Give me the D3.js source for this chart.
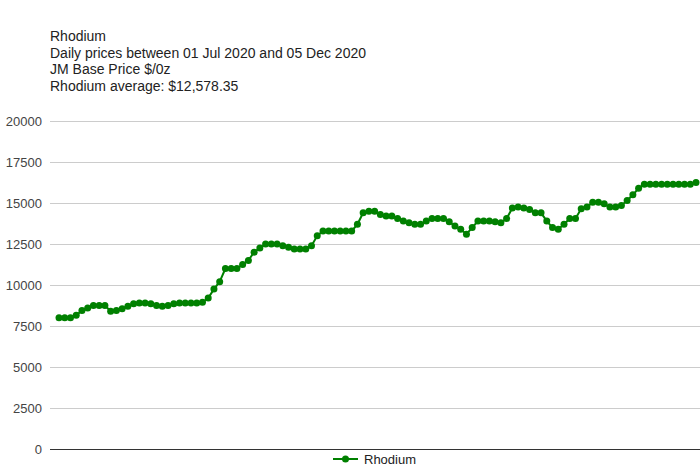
<!DOCTYPE html>
<html>
<head>
<meta charset="utf-8">
<script src="https://cdn.jsdelivr.net/npm/d3@7"></script>
<style>
  body { margin: 0; background: #fff; }
  svg { display: block; font-family: "Liberation Sans", Arial, sans-serif; }
</style>
</head>
<body>
<svg id="chart"></svg>
<script>
// title lines shown above the chart
const titleLines = [
  "Rhodium",
  "Daily prices between 01 Jul 2020 and 05 Dec 2020",
  "JM Base Price $/0z",
  "Rhodium average: $12,578.35"
]
const seriesName = "Rhodium"

// daily prices (one per trading day)
const prices = [
  8000, 8000, 8000, 8150, 8450, 8600, 8750, 8750, 8750, 8400,
  8450, 8550, 8700, 8850, 8900, 8900, 8850, 8750, 8700, 8750,
  8850, 8900, 8900, 8900, 8900, 8950, 9200, 9750, 10200, 11000,
  11000, 11000, 11250, 11500, 12000, 12250, 12500, 12500, 12500, 12400,
  12300, 12200, 12200, 12200, 12400, 13000, 13300, 13300, 13300, 13300,
  13300, 13300, 13700, 14400, 14500, 14500, 14300, 14200, 14200, 14050,
  13900, 13800, 13700, 13700, 13900, 14050, 14050, 14050, 13850, 13600,
  13400, 13100, 13500, 13900, 13900, 13900, 13850, 13800, 14050, 14700,
  14750, 14700, 14600, 14400, 14400, 13900, 13500, 13400, 13700, 14050,
  14050, 14650, 14750, 15050, 15050, 14950, 14750, 14750, 14850, 15150,
  15500, 15900, 16150, 16150, 16150, 16150, 16150, 16150, 16150, 16150,
  16150, 16250
]
const yTicks = [0, 2500, 5000, 7500, 10000, 12500, 15000, 17500, 20000]

const width = 700, height = 470
const color = "#008000"

const svg = d3.select("#chart")
  .attr("width", width)
  .attr("height", height)

const x = d3.scalePoint()
  .domain(prices.map((d, i) => i))
  .range([59, 696])

const y = d3.scaleLinear()
  .domain([0, 20000])
  .range([449, 121])

// titles
svg.append("g")
  .selectAll("text")
  .data(titleLines)
  .enter()
  .append("text")
  .attr("x", 50)
  .attr("y", (d, i) => 41 + i * 16.5)
  .attr("font-size", 14)
  .attr("fill", "#222")
  .text(d => d)

// grid + labels
const yAxis = d3.axisLeft(y)
  .tickValues(yTicks)
  .tickSize(-(width - 50))
  .tickPadding(8)
  .tickFormat(d3.format("d"))

const gy = svg.append("g")
  .attr("transform", "translate(50,0)")
  .call(yAxis)
gy.select(".domain").remove()
gy.selectAll(".tick line")
  .attr("stroke", d => d === 0 ? "#333" : "#ccc")
  .attr("stroke-width", 1)
gy.selectAll(".tick text")
  .attr("font-size", 13)
  .attr("fill", "#444")
  .attr("font-family", "Liberation Sans, Arial, sans-serif")

// series
const line = d3.line()
  .x((d, i) => x(i))
  .y(d => y(d))

svg.append("path")
  .datum(prices)
  .attr("fill", "none")
  .attr("stroke", color)
  .attr("stroke-width", 2)
  .attr("d", line)

svg.append("g")
  .selectAll("circle")
  .data(prices)
  .enter()
  .append("circle")
  .attr("cx", (d, i) => x(i))
  .attr("cy", d => y(d))
  .attr("r", 3.5)
  .attr("fill", color)

// legend
const lg = svg.append("g").attr("transform", "translate(333,459)")
lg.append("line")
  .attr("x1", 0).attr("x2", 25)
  .attr("stroke", color)
  .attr("stroke-width", 2)
lg.append("circle")
  .attr("cx", 12.5)
  .attr("r", 3.5)
  .attr("fill", color)
lg.append("text")
  .attr("x", 31)
  .attr("y", 4.5)
  .attr("font-size", 13)
  .attr("fill", "#222")
  .text(seriesName)
</script>
</body>
</html>
